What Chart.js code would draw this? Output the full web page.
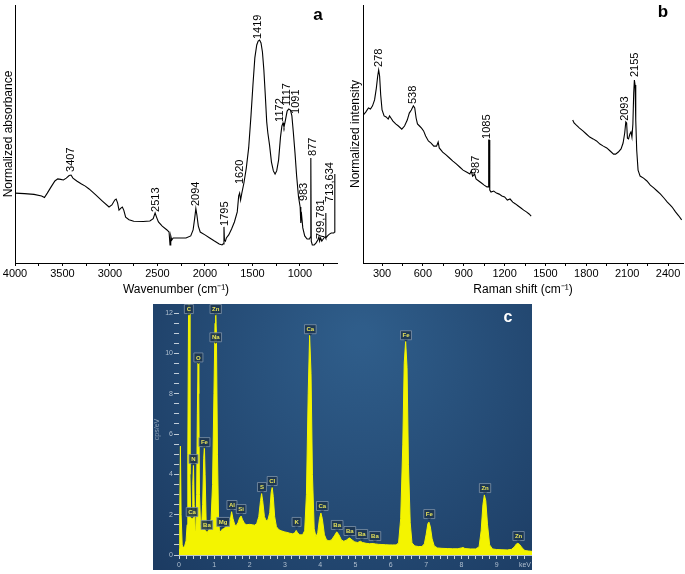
<!DOCTYPE html>
<html>
<head>
<meta charset="utf-8">
<title>FTIR, Raman and EDS spectra</title>
<script src="https://cdn.jsdelivr.net/npm/chart.js@4.4.1/dist/chart.umd.min.js"></script>
<style>
  body { margin: 0; background: #fff; }
  #wrap { position: relative; width: 685px; height: 574px; overflow: hidden; }
  .panel { position: absolute; }
  #panelA { left: 0; top: 0; width: 345px; height: 300px; }
  #panelB { left: 345px; top: 0; width: 340px; height: 300px; }
  #panelC { left: 153px; top: 304px; width: 379px; height: 266px; }
</style>
</head>
<body>
<div id="wrap">
  <div class="panel" id="panelA"><canvas id="chartA"></canvas></div>
  <div class="panel" id="panelB"><canvas id="chartB"></canvas></div>
  <div class="panel" id="panelC"><canvas id="chartC"></canvas></div>
</div>
<script>
// Panel a - FTIR spectrum
const irWavenumber = [4000, 3900, 3800, 3720, 3690, 3660, 3620, 3580, 3550, 3520, 3490, 3460, 3430, 3410, 3390, 3350, 3300, 3260, 3220, 3150, 3080, 3010, 2980, 2950, 2935, 2920, 2905, 2885, 2870, 2855, 2835, 2800, 2750, 2650, 2580, 2545, 2525, 2510, 2490, 2450, 2400, 2378, 2368, 2360, 2350, 2335, 2280, 2200, 2150, 2125, 2108, 2096, 2085, 2070, 2050, 2000, 1950, 1900, 1850, 1820, 1808, 1800, 1795, 1785, 1775, 1750, 1720, 1690, 1660, 1645, 1635, 1625, 1612, 1590, 1565, 1540, 1515, 1495, 1475, 1455, 1440, 1425, 1410, 1395, 1380, 1365, 1350, 1338, 1320, 1300, 1280, 1262, 1245, 1225, 1205, 1190, 1178, 1168, 1155, 1135, 1118, 1100, 1085, 1070, 1052, 1035, 1015, 998, 992, 990, 986, 970, 950, 925, 900, 890, 887, 884, 881, 870, 850, 830, 812, 800, 793, 783, 770, 755, 740, 732, 729, 726, 710, 690, 670, 645, 636, 633];
const irAbsorbance = [27.1, 26.9, 26.6, 26.0, 25.4, 27.1, 29.5, 31.8, 32.6, 32.4, 32.2, 32.9, 33.9, 34.1, 32.9, 31.8, 30.6, 29.8, 28.7, 26.4, 24.0, 21.7, 22.5, 24.4, 24.8, 23.3, 20.5, 21.3, 21.7, 20.5, 17.8, 16.8, 16.2, 16.1, 16.3, 17.2, 19.4, 17.8, 15.9, 14.3, 12.8, 12.0, 7.0, 10.5, 8.9, 9.7, 9.7, 9.7, 10.5, 12.8, 17.4, 21.1, 18.6, 14.3, 12.0, 10.9, 9.7, 8.5, 7.4, 7.0, 7.4, 14.0, 8.9, 8.5, 9.7, 10.9, 13.2, 15.9, 19.8, 26.0, 27.1, 24.4, 27.1, 31.0, 36.8, 44.6, 57.4, 69.0, 79.5, 84.5, 86.0, 86.4, 85.3, 81.8, 74.8, 65.1, 54.7, 50.4, 45.7, 39.1, 35.7, 34.5, 35.7, 39.9, 48.8, 53.1, 54.3, 52.7, 55.0, 58.9, 59.7, 59.3, 57.0, 50.8, 42.6, 33.7, 25.6, 21.7, 20.9, 15.5, 19.8, 13.6, 10.5, 9.3, 9.3, 10.1, 40.7, 40.7, 8.5, 7.0, 7.0, 7.8, 8.9, 10.1, 8.5, 9.7, 8.5, 9.3, 10.1, 10.1, 19.4, 9.7, 10.5, 11.2, 11.6, 11.6, 12.0, 34.5];
const irPeakText = ['3407', '2513', '2094', '1795', '1620', '1419', '1172', '1117', '1091', '877', '983', '799,781', '713,634'];
const irPeakAt = [3411, 2521, 2095, 1789, 1632, 1437, 1211, 1137, 1042, 863, 963, 779, 679];
const irPeakBase = [34.9, 19.4, 21.7, 14.0, 30.2, 86.4, 54.3, 60.5, 57.4, 41.1, 23.6, 8.9, 23.3];

// Panel b - Raman spectrum (null marks the unrecorded gap)
const ramanShift = [163, 180, 200, 215, 230, 245, 258, 268, 275, 282, 290, 300, 315, 330, 345, 355, 365, 380, 400, 420, 445, 465, 485, 500, 515, 530, 540, 550, 560, 575, 590, 605, 620, 640, 660, 680, 700, 712, 720, 745, 770, 795, 820, 845, 870, 895, 920, 945, 955, 965, 980, 990, 1010, 1030, 1050, 1070, 1078, 1083, 1087, 1091, 1100, 1120, 1140, 1160, 1180, 1200, 1220, 1240, 1260, 1280, 1300, 1320, 1340, 1360, 1380, 1395, 1550, 1700, 1710, 1725, 1750, 1775, 1800, 1825, 1850, 1875, 1900, 1925, 1950, 1975, 2000, 2015, 2035, 2055, 2070, 2082, 2090, 2096, 2102, 2110, 2120, 2128, 2135, 2142, 2148, 2153, 2158, 2163, 2170, 2180, 2195, 2220, 2245, 2270, 2295, 2320, 2345, 2370, 2395, 2415, 2430, 2455, 2480, 2500];
const ramanIntensity = [57.4, 58.5, 60.1, 59.7, 60.9, 63.2, 67.8, 72.5, 74.8, 72.5, 65.1, 59.3, 57.0, 56.6, 55.8, 57.0, 56.2, 55.0, 53.9, 53.1, 51.9, 53.1, 55.4, 58.1, 59.3, 60.9, 60.1, 56.2, 53.9, 53.1, 52.3, 51.2, 49.2, 47.3, 46.5, 45.3, 45.3, 46.9, 44.6, 43.0, 41.9, 40.7, 39.5, 38.4, 37.2, 36.0, 35.3, 34.5, 35.7, 33.7, 34.5, 32.6, 31.8, 31.0, 30.2, 29.5, 29.5, 47.7, 47.7, 28.3, 27.5, 27.9, 27.1, 26.7, 26.0, 25.6, 24.4, 24.8, 23.6, 22.9, 22.1, 21.3, 20.5, 19.8, 19.0, 18.2, null, 55.4, 54.3, 53.5, 52.3, 51.2, 50.0, 48.8, 48.1, 47.3, 46.1, 45.3, 44.6, 43.4, 42.2, 42.2, 43.0, 44.2, 46.5, 50.4, 54.7, 54.3, 48.4, 48.1, 50.0, 50.8, 48.8, 53.9, 65.9, 70.9, 69.0, 55.4, 43.8, 36.0, 33.7, 32.9, 31.8, 30.2, 29.1, 27.9, 26.7, 25.2, 23.6, 22.5, 21.7, 19.8, 18.2, 16.7];
const ramanPeakText = ['278', '538', '987', '1085', '2093', '2155'];
const ramanPeakAt = [278, 527, 988, 1068, 2082, 2155];
const ramanPeakBase = [75.6, 61.2, 34.1, 47.7, 54.7, 71.7];

// Panel c - EDS spectrum
const edsEnergy = [0.00, 0.02, 0.04, 0.06, 0.09, 0.12, 0.16, 0.20, 0.23, 0.25, 0.27, 0.28, 0.29, 0.31, 0.33, 0.35, 0.37, 0.39, 0.41, 0.43, 0.46, 0.48, 0.50, 0.52, 0.54, 0.56, 0.58, 0.61, 0.64, 0.67, 0.70, 0.72, 0.74, 0.77, 0.80, 0.83, 0.87, 0.91, 0.95, 0.99, 1.02, 1.04, 1.06, 1.09, 1.12, 1.15, 1.19, 1.24, 1.29, 1.34, 1.40, 1.45, 1.49, 1.53, 1.58, 1.62, 1.67, 1.72, 1.76, 1.80, 1.86, 1.92, 2.00, 2.08, 2.14, 2.20, 2.26, 2.31, 2.34, 2.37, 2.42, 2.47, 2.52, 2.57, 2.61, 2.64, 2.67, 2.71, 2.76, 2.83, 2.90, 2.98, 3.06, 3.14, 3.22, 3.28, 3.32, 3.36, 3.42, 3.50, 3.56, 3.61, 3.66, 3.70, 3.74, 3.78, 3.83, 3.88, 3.93, 3.98, 4.02, 4.06, 4.12, 4.18, 4.25, 4.32, 4.40, 4.47, 4.53, 4.60, 4.67, 4.75, 4.83, 4.90, 4.98, 5.06, 5.14, 5.20, 5.30, 5.40, 5.50, 5.56, 5.65, 5.75, 5.85, 5.95, 6.05, 6.15, 6.22, 6.28, 6.34, 6.38, 6.42, 6.46, 6.50, 6.55, 6.60, 6.68, 6.78, 6.88, 6.95, 7.00, 7.05, 7.08, 7.12, 7.17, 7.23, 7.32, 7.45, 7.60, 7.75, 7.90, 8.00, 8.05, 8.10, 8.25, 8.40, 8.50, 8.56, 8.61, 8.65, 8.69, 8.74, 8.80, 8.88, 9.00, 9.15, 9.30, 9.42, 9.50, 9.56, 9.60, 9.65, 9.72, 9.80, 9.90, 10.00];
const edsCounts = [0.3, 2.0, 5.4, 2.0, 0.5, 0.35, 0.45, 0.7, 1.5, 5.0, 12.0, 14.0, 12.0, 4.0, 2.1, 1.9, 2.1, 3.5, 4.5, 2.5, 1.2, 1.3, 3.0, 7.0, 9.6, 8.0, 3.0, 1.5, 1.4, 2.5, 4.8, 5.4, 4.0, 1.6, 1.0, 1.3, 1.4, 1.8, 3.5, 8.0, 11.5, 12.0, 11.0, 5.0, 1.8, 1.1, 1.2, 1.3, 1.35, 1.4, 1.5, 1.7, 2.15, 1.8, 1.5, 1.45, 1.6, 1.85, 1.93, 1.75, 1.55, 1.5, 1.52, 1.5, 1.48, 1.55, 1.9, 2.7, 3.05, 2.7, 1.9, 1.7, 1.75, 2.1, 3.1, 3.35, 2.9, 1.9, 1.4, 1.25, 1.2, 1.15, 1.12, 1.08, 1.05, 1.1, 1.22, 1.1, 1.0, 1.0, 1.2, 3.0, 8.0, 10.9, 9.0, 4.0, 1.3, 0.9, 1.1, 1.8, 2.08, 1.8, 1.0, 0.75, 0.7, 0.75, 0.95, 1.15, 1.0, 0.75, 0.68, 0.75, 0.85, 0.75, 0.65, 0.62, 0.68, 0.62, 0.58, 0.56, 0.57, 0.55, 0.53, 0.52, 0.51, 0.5, 0.5, 0.5, 0.6, 1.8, 5.5, 9.5, 10.6, 9.3, 4.5, 1.6, 0.6, 0.45, 0.42, 0.42, 0.55, 1.0, 1.55, 1.63, 1.4, 0.8, 0.45, 0.35, 0.33, 0.32, 0.31, 0.31, 0.35, 0.37, 0.32, 0.3, 0.3, 0.4, 1.2, 2.5, 2.98, 2.7, 1.5, 0.5, 0.3, 0.27, 0.26, 0.25, 0.28, 0.4, 0.55, 0.58, 0.52, 0.35, 0.22, 0.2, 0.18];
const edsElements = ['C', 'Zn', 'Na', 'O', 'Fe', 'N', 'Ca', 'Ba', 'Mg', 'Al', 'Si', 'S', 'Cl', 'K', 'Ca', 'Ca', 'Ba', 'Ba', 'Ba', 'Ba', 'Fe', 'Fe', 'Zn', 'Zn'];
const edsElementAt = [0.28, 1.04, 1.04, 0.55, 0.72, 0.41, 0.37, 0.79, 1.25, 1.50, 1.76, 2.35, 2.64, 3.33, 3.72, 4.06, 4.48, 4.84, 5.18, 5.55, 6.43, 7.09, 8.67, 9.62];
const edsTagLevel = [12.2, 12.2, 10.8, 9.8, 5.6, 4.76, 2.13, 1.49, 1.64, 2.48, 2.28, 3.37, 3.67, 1.64, 11.2, 2.43, 1.49, 1.19, 1.04, 0.94, 10.9, 2.03, 3.32, 0.94];

const FONT = '"Liberation Sans", Arial, Helvetica, sans-serif';
Chart.defaults.font.family = FONT;
Chart.defaults.color = '#000';

function toPoints(xs, ys) {
    return xs.map((x, i) => ({ x: x, y: ys[i] }));
}

// rotated peak labels plus the panel letter
function peakLabelPlugin(texts, at, base, letter, letterX, letterY) {
    return {
        id: 'peakLabels',
        afterDatasetsDraw(chart) {
            const { ctx, scales: { x, y } } = chart;
            ctx.save();
            ctx.fillStyle = '#000';
            ctx.font = '11px ' + FONT;
            ctx.textAlign = 'left';
            ctx.textBaseline = 'middle';
            texts.forEach((t, i) => {
                ctx.save();
                ctx.translate(x.getPixelForValue(at[i]), y.getPixelForValue(base[i]));
                ctx.rotate(-Math.PI / 2);
                ctx.fillText(t, 1, 0);
                ctx.restore();
            });
            ctx.font = 'bold 17px ' + FONT;
            ctx.textAlign = 'center';
            ctx.fillText(letter, letterX, letterY);
            ctx.restore();
        }
    };
}

function spectrumAxes(min, max, step, every, title, yTitle, yWidth, yTitlePad) {
    return {
        x: {
            type: 'linear', min: min, max: max,
            border: { display: true, color: '#000', width: 1 },
            grid: { drawOnChartArea: false, drawTicks: true, tickLength: 3, tickColor: '#000' },
            ticks: {
                stepSize: step, autoSkip: false, maxRotation: 0, includeBounds: false,
                padding: 1, color: '#000', font: { size: 11 },
                callback: v => (v % every === 0 ? v : '')
            },
            title: { display: true, text: title, color: '#000', font: { size: 12 }, padding: { top: 0, bottom: 3 } },
            afterFit: s => { s.height = 37; s.paddingLeft = 0; s.paddingRight = 0; }
        },
        y: {
            min: 0, max: 100,
            border: { display: true, color: '#000', width: 1 },
            grid: { display: false },
            ticks: { display: false },
            title: { display: true, text: yTitle, color: '#000', font: { size: 12 }, padding: { top: yTitlePad, bottom: 0 } },
            afterFit: s => { s.width = yWidth; s.paddingTop = 0; s.paddingBottom = 0; }
        }
    };
}

// a
const axesA = spectrumAxes(610, 4000, 250, 500, 'Wavenumber (cm⁻¹)', 'Normalized absorbance', 15, 1);
axesA.x.reverse = true;
new Chart(document.getElementById('chartA'), {
    type: 'line',
    data: {
        datasets: [{
            data: toPoints(irWavenumber, irAbsorbance),
            borderColor: '#000', borderWidth: 1.1, pointRadius: 0, tension: 0
        }]
    },
    options: {
        responsive: true, maintainAspectRatio: false, animation: false,
        layout: { padding: { top: 5, right: 8, left: 0, bottom: 0 } },
        plugins: { legend: { display: false }, tooltip: { enabled: false } },
        scales: axesA
    },
    plugins: [peakLabelPlugin(irPeakText, irPeakAt, irPeakBase, 'a', 318, 15)]
});

// b
new Chart(document.getElementById('chartB'), {
    type: 'line',
    data: {
        datasets: [{
            data: toPoints(ramanShift, ramanIntensity),
            borderColor: '#000', borderWidth: 1.1, pointRadius: 0, tension: 0, spanGaps: false
        }]
    },
    options: {
        responsive: true, maintainAspectRatio: false, animation: false,
        layout: { padding: { top: 5, right: 2, left: 0, bottom: 0 } },
        plugins: { legend: { display: false }, tooltip: { enabled: false } },
        scales: spectrumAxes(160, 2510, 150, 300, 'Raman shift (cm⁻¹)', 'Normalized intensity', 18, 3)
    },
    plugins: [peakLabelPlugin(ramanPeakText, ramanPeakAt, ramanPeakBase, 'b', 318, 12)]
});

// c - EDS with dark blue backdrop and element tags
const edsBackdrop = {
    id: 'edsBackdrop',
    beforeDraw(chart) {
        const { ctx, width, height } = chart;
        const g = ctx.createRadialGradient(width * 0.55, height * 0.12, 10, width * 0.55, height * 0.3, width * 0.75);
        g.addColorStop(0, '#2f5d8a');
        g.addColorStop(1, '#1b3a61');
        ctx.save();
        ctx.fillStyle = g;
        ctx.fillRect(0, 0, width, height);
        ctx.restore();
    },
    afterDatasetsDraw(chart) {
        const { ctx, scales: { x, y } } = chart;
        ctx.save();
        ctx.font = 'bold 6px ' + FONT;
        ctx.textAlign = 'center';
        ctx.textBaseline = 'middle';
        edsElements.forEach((el, i) => {
            const px = x.getPixelForValue(edsElementAt[i]);
            const py = y.getPixelForValue(edsTagLevel[i]);
            const w = Math.max(9, ctx.measureText(el).width + 4);
            const h = 9;
            ctx.fillStyle = 'rgba(28, 52, 80, 0.88)';
            ctx.strokeStyle = '#7f93a8';
            ctx.lineWidth = 0.8;
            ctx.beginPath();
            ctx.rect(px - w / 2, py - h / 2, w, h);
            ctx.fill();
            ctx.stroke();
            ctx.beginPath();
            ctx.moveTo(px - 2, py + h / 2);
            ctx.lineTo(px, py + h / 2 + 2);
            ctx.lineTo(px + 2, py + h / 2);
            ctx.fill();
            ctx.fillStyle = '#e6e25a';
            ctx.fillText(el, px, py + 0.5);
        });
        ctx.fillStyle = '#fff';
        ctx.font = 'bold 16px ' + FONT;
        ctx.fillText('c', 355, 14);
        ctx.restore();
    }
};

new Chart(document.getElementById('chartC'), {
    type: 'line',
    data: {
        datasets: [{
            data: toPoints(edsEnergy, edsCounts),
            borderColor: '#f4f400', backgroundColor: '#f4f400', fill: 'origin',
            borderWidth: 1, pointRadius: 0, tension: 0
        }]
    },
    options: {
        responsive: true, maintainAspectRatio: false, animation: false,
        layout: { padding: 0 },
        plugins: { legend: { display: false }, tooltip: { enabled: false } },
        scales: {
            x: {
                type: 'linear', min: 0, max: 10,
                border: { display: true, color: '#b8c4d0', width: 1 },
                grid: { drawOnChartArea: false, drawTicks: true, tickLength: 4, tickColor: '#c8d2dc' },
                ticks: {
                    stepSize: 0.2, autoSkip: false, maxRotation: 0, includeBounds: false,
                    padding: 2, color: '#b0bfcf', font: { size: 7 },
                    callback: v => {
                        if (Math.abs(v - 9.8) < 1e-6) return 'keV';
                        if (Math.abs(v - Math.round(v)) < 1e-6 && v < 9.5) return Math.round(v);
                        return '';
                    }
                },
                afterFit: s => { s.height = 15; s.paddingLeft = 0; s.paddingRight = 0; }
            },
            y: {
                min: 0, max: 12.45,
                border: { display: false },
                grid: { drawOnChartArea: false, drawTicks: true, tickLength: 5, tickColor: '#c0ccd8' },
                ticks: {
                    stepSize: 0.5, autoSkip: false, includeBounds: false, padding: 1,
                    color: '#b0bfcf', font: { size: 7 },
                    callback: v => (Math.abs(v % 2) < 1e-6 ? v : '')
                },
                title: { display: true, text: 'cps/eV', color: '#8fa3b8', font: { size: 7 }, padding: { top: 0, bottom: 0 } },
                afterFit: s => { s.width = 26; s.paddingTop = 0; s.paddingBottom = 0; }
            }
        }
    },
    plugins: [edsBackdrop]
});
</script>
</body>
</html>
